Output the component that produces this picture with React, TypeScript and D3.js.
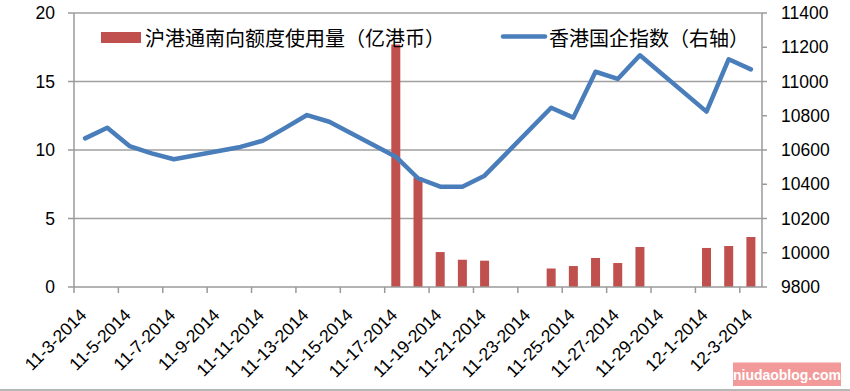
import React from "react";
import * as d3 from "d3";

const tradeDates = ["2014-11-03","2014-11-04","2014-11-05","2014-11-06","2014-11-07","2014-11-10","2014-11-11","2014-11-12","2014-11-13","2014-11-14","2014-11-17","2014-11-18","2014-11-19","2014-11-20","2014-11-21","2014-11-24","2014-11-25","2014-11-26","2014-11-27","2014-11-28","2014-12-01","2014-12-02","2014-12-03"];
const hsceiValues = [10668,10730,10623,10580,10546,10618,10654,10728,10804,10765,10561,10435,10386,10386,10450,10847,10789,11057,11015,11153,10824,11130,11071];
const quotaValues = [null,null,null,null,null,null,null,null,null,null,17.7,8.0,2.55,1.99,1.92,1.35,1.53,2.12,1.75,2.92,2.85,2.99,3.65];
const leftTicks = [0,5,10,15,20];
const rightTicks = [9800,10000,10200,10400,10600,10800,11000,11200,11400];
const barLegend = "沪港通南向额度使用量（亿港币）";
const lineLegend = "香港国企指数（右轴）";
const watermark = "niudaoblog.com";

const W = 850, H = 391;
const L = 74, R = 762, T = 13, B = 287;
const BLUE = "#4a7ebb", RED = "#c0504d", GRID = "#a0a0a0", AXIS = "#9a9a9a";
const FONT = "'Liberation Sans', Arial, sans-serif";
const CJK = "'Noto Sans CJK SC', sans-serif";

const parse = d3.timeParse("%Y-%m-%d");
const fmt = (d: Date) => `${d.getMonth() + 1}-${d.getDate()}-${d.getFullYear()}`;
const days = d3.timeDay.range(parse("2014-11-03")!, parse("2014-12-04")!);
const keys = days.map(fmt);

export default function App() {
  const x = d3.scaleBand<string>().domain(keys).range([L, R]).paddingInner(0).paddingOuter(0);
  const yL = d3.scaleLinear().domain([0, 20]).range([B, T]);
  const yR = d3.scaleLinear().domain([9800, 11400]).range([B, T]);
  const bw = x.bandwidth();
  const cx = (s: string) => (x(fmt(parse(s)!)) as number) + bw / 2;

  const line = d3.line<number>()
    .x((_, i) => cx(tradeDates[i]))
    .y((v) => yR(v));

  const barW = 9;

  return (
    <svg width={W} height={H} style={{ position: "absolute", left: 0, top: 0, background: "#fff" }}>
      {leftTicks.filter((t) => t > 0).map((t) => (
        <line key={"g" + t} x1={L} x2={R} y1={yL(t)} y2={yL(t)} stroke={GRID} strokeWidth={1.5} />
      ))}
      {quotaValues.map((v, i) =>
        v == null ? null : (
          <rect key={"b" + i} x={cx(tradeDates[i]) - barW / 2} y={yL(v)} width={barW} height={B - yL(v)} fill={RED} />
        )
      )}
      <line x1={L} x2={L} y1={T} y2={B} stroke={AXIS} strokeWidth={1.5} />
      <line x1={R} x2={R} y1={T} y2={B} stroke={AXIS} strokeWidth={1.5} />
      <line x1={L} x2={R} y1={B} y2={B} stroke={AXIS} strokeWidth={1.5} />
      {leftTicks.map((t) => (
        <g key={"lt" + t}>
          <line x1={L - 6} x2={L} y1={yL(t)} y2={yL(t)} stroke={AXIS} strokeWidth={1.5} />
          <text x={55} y={yL(t) + 6} textAnchor="end" fontFamily={FONT} fontSize={17.5} fill="#000">{t}</text>
        </g>
      ))}
      {rightTicks.map((t) => (
        <g key={"rt" + t}>
          <line x1={R} x2={R + 5} y1={yR(t)} y2={yR(t)} stroke={AXIS} strokeWidth={1.5} />
          <text x={781} y={yR(t) + 6} textAnchor="start" fontFamily={FONT} fontSize={17.5} fill="#000">{t}</text>
        </g>
      ))}
      {keys.map((k, i) =>
        i % 2 === 0 ? (
          <g key={"xt" + k}>
            <line x1={x(k)!} x2={x(k)!} y1={B} y2={B + 6} stroke={AXIS} strokeWidth={1.5} />
            <text
              x={x(k)! + bw / 2 + 2.5}
              y={316}
              textAnchor="end"
              transform={`rotate(-45, ${x(k)! + bw / 2 + 2.5}, 316)`}
              fontFamily={FONT}
              fontSize={17.5}
              fill="#000"
            >
              {k}
            </text>
          </g>
        ) : null
      )}
      <path d={line(hsceiValues) || ""} fill="none" stroke={BLUE} strokeWidth={4.5} strokeLinejoin="round" strokeLinecap="round" />
      <rect x={101} y={32} width={40} height={11} fill={RED} />
      <text x={145} y={45.5} fontFamily={CJK} fontSize={20} fill="#000">{barLegend}</text>
      <line x1={503} x2={545} y1={36.5} y2={36.5} stroke={BLUE} strokeWidth={4.5} strokeLinecap="round" />
      <text x={549} y={45.5} fontFamily={CJK} fontSize={20} fill="#000">{lineLegend}</text>
      <line x1={0} x2={W} y1={390} y2={390} stroke={GRID} strokeWidth={1.5} />
      <rect x={733} y={362.5} width={108} height={23.5} fill="#f29a9a" />
      <text x={787} y={380} textAnchor="middle" fontFamily={FONT} fontWeight="bold" fontSize={14} fill="#fff">{watermark}</text>
    </svg>
  );
}
